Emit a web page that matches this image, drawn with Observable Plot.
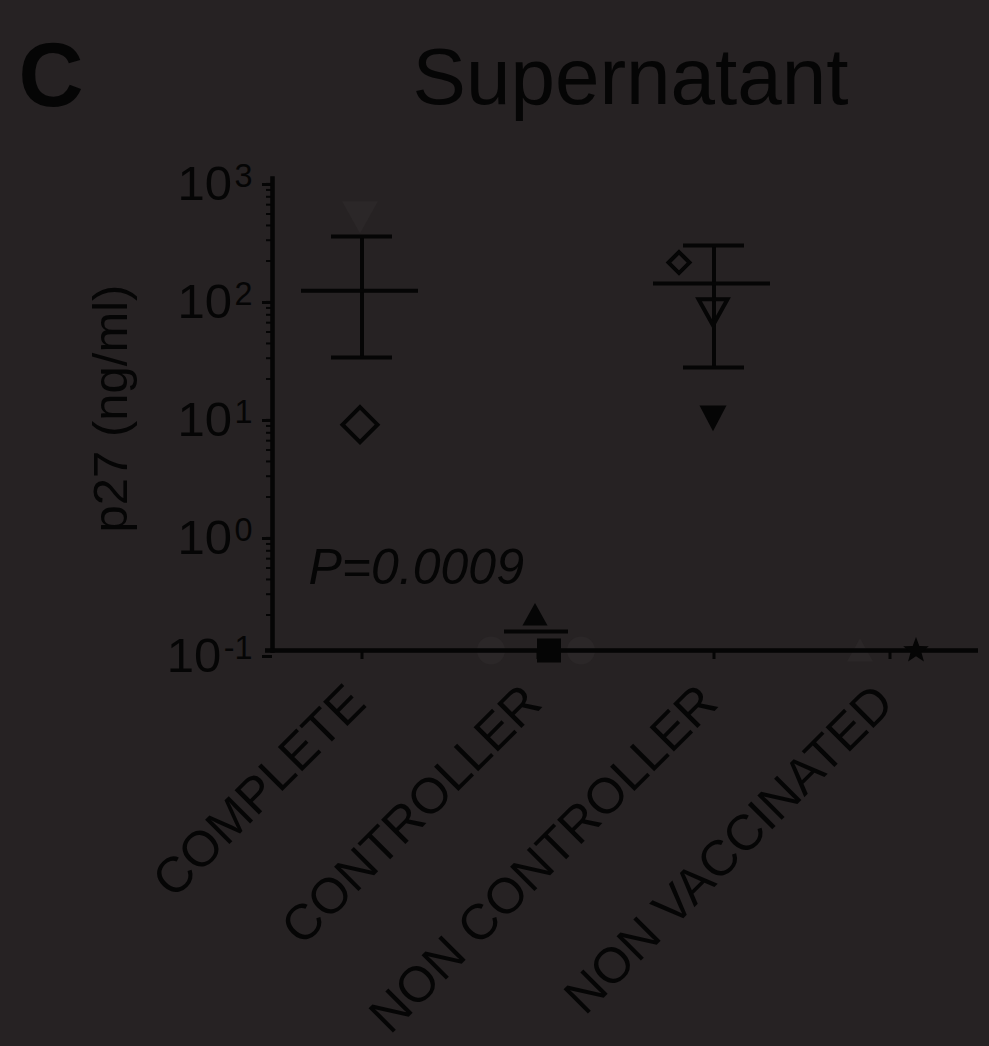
<!DOCTYPE html>
<html><head><meta charset="utf-8">
<script src="https://cdn.jsdelivr.net/npm/d3@7"></script>
<script src="https://cdn.jsdelivr.net/npm/@observablehq/plot@0.6"></script>
<style>
html,body{margin:0;padding:0;background:#262223;}
svg{display:block;}
</style></head><body><div id="chart"></div>
<script>
// ---------- data ----------
const groups = ["COMPLETE", "CONTROLLER", "NON CONTROLLER", "NON VACCINATED"];

const pointGroup = ["COMPLETE", "COMPLETE", "CONTROLLER", "CONTROLLER", "CONTROLLER", "CONTROLLER",
                    "NON CONTROLLER", "NON CONTROLLER", "NON CONTROLLER", "NON VACCINATED", "NON VACCINATED"];
const pointValue = [8.2, 477, 0.2, 0.1, 0.1, 0.1, 194, 74.6, 9.4, 0.1, 0.1];
const pointShape = ["diamond", "triangleDown", "triangleUp", "square", "circle", "circle",
                    "diamond", "triangleDown", "triangleDownFilled", "star", "triangleUp"];
const pointFaint = [false, true, false, false, true, true, false, false, false, false, true];

const meanGroup = ["COMPLETE", "CONTROLLER", "NON CONTROLLER"];
const meanValue = [112, 0.145, 129];
const errLow = [30.4, null, 25];
const errHigh = [322, null, 270];

const yTickValues = [0.1, 1, 10, 100, 1000];
const yTickExponents = ["-1", "0", "1", "2", "3"];

const titleText = "Supernatant";
const panelLetter = "C";
const yLabel = "p27 (ng/ml)";
const pText = "P=0.0009";

// ---------- tables ----------
const points = pointValue.map((v, i) => ({group: pointGroup[i], value: v, shape: pointShape[i], faint: pointFaint[i]}));
const means = meanValue.map((v, i) => ({group: meanGroup[i], mean: v, lo: errLow[i], hi: errHigh[i]}));
const errs = means.filter(d => d.lo != null);

// minor log ticks
const minorTicks = [];
for (let k = -1; k < 3; k++) for (let m = 2; m <= 9; m++) minorTicks.push(m * Math.pow(10, k));

// ---------- symbols ----------
const R = s => Math.sqrt(s / Math.PI);
const symbols = {
  diamond: {draw(c, s) { const r = R(s); c.moveTo(0, -r); c.lineTo(r, 0); c.lineTo(0, r); c.lineTo(-r, 0); c.closePath(); }},
  triangleDown: {draw(c, s) { const r = R(s); c.moveTo(-r, -0.85 * r); c.lineTo(r, -0.85 * r); c.lineTo(0, 0.95 * r); c.closePath(); }},
  triangleDownFilled: {draw(c, s) { const r = R(s); c.moveTo(-r, -0.9 * r); c.lineTo(r, -0.9 * r); c.lineTo(0, 1.0 * r); c.closePath(); }},
  triangleUp: {draw(c, s) { const r = R(s); c.moveTo(-r, 0.85 * r); c.lineTo(r, 0.85 * r); c.lineTo(0, -0.95 * r); c.closePath(); }},
  square: {draw(c, s) { const r = R(s); c.rect(-r, -r, 2 * r, 2 * r); }},
  circle: {draw(c, s) { const r = R(s); c.moveTo(r, 0); c.arc(0, 0, r, 0, 2 * Math.PI); }},
  star: {draw(c, s) {
    const r = R(s), ri = r * 0.42;
    for (let i = 0; i < 10; i++) {
      const a = -Math.PI / 2 + i * Math.PI / 5, rr = i % 2 ? ri : r;
      const x = rr * Math.cos(a), y = rr * Math.sin(a);
      i ? c.lineTo(x, y) : c.moveTo(x, y);
    }
    c.closePath();
  }}
};

// per-point rendering (style / jitter), index-aligned with the data arrays
const INK = "#050505", FAINT = "#2b2728";
const pointStyle = [
  {r: 17.5, open: true, dx: -2},   // complete diamond
  {r: 18, open: false, dx: -2},    // complete faint triangle
  {r: 12.5, open: false, dx: -3},  // controller triangle up
  {r: 12, open: false, dx: 11},    // controller square
  {r: 14, open: false, dx: -47},   // faint circle
  {r: 14, open: false, dx: 43},    // faint circle
  {r: 10.5, open: true, dx: -35},  // non controller diamond
  {r: 14.5, open: true, dx: -1},   // non controller open triangle
  {r: 13.5, open: false, dx: -1},  // non controller filled triangle
  {r: 13.5, open: false, dx: 26},  // non vaccinated star
  {r: 13, open: false, dx: -30}    // faint triangle
];

const dotMarks = (faint) => points.map((p, i) => p.faint === faint ? Plot.dot([p], {
  x: "group", y: "value",
  symbol: symbols[p.shape], r: pointStyle[i].r, dx: pointStyle[i].dx,
  fill: pointStyle[i].open ? "none" : (faint ? FAINT : INK),
  stroke: pointStyle[i].open ? INK : "none",
  strokeWidth: 4
}) : null).filter(Boolean);

const chart = Plot.plot({
  width: 989, height: 1046,
  marginTop: 178, marginBottom: 396, marginLeft: 272, marginRight: 11,
  style: {background: "#262223", color: INK, fontFamily: "'Liberation Sans', Arial, sans-serif", overflow: "visible"},
  x: {type: "band", domain: groups, paddingInner: 0.337, paddingOuter: 0.167, axis: null, label: null},
  y: {type: "log", domain: [0.1, 1000], axis: null, label: null},
  marks: [
    ...dotMarks(true),
    // axes
    Plot.axisY(minorTicks, {anchor: "left", tickSize: 6, tickFormat: () => "", strokeWidth: 2, stroke: INK, label: null}),
    Plot.axisY(yTickValues, {anchor: "left", tickSize: 10, tickPadding: 10, strokeWidth: 3, stroke: INK, fill: INK,
      fontSize: 49, dy: 6, label: null, tickFormat: d => "10^" + yTickExponents[yTickValues.indexOf(d)]}),
    Plot.axisX(groups, {anchor: "bottom", tickSize: 9, tickFormat: () => "", strokeWidth: 3, stroke: INK, label: null}),
    Plot.frame({anchor: "left", stroke: INK, strokeWidth: 4.5}),
    Plot.ruleY([0.1], {stroke: INK, strokeWidth: 4.5, insetLeft: -7}),
    // error bars and means
    Plot.ruleX(errs, {x: "group", y1: "lo", y2: "hi", stroke: INK, strokeWidth: 4}),
    Plot.tickY(errs, {x: "group", y: "hi", stroke: INK, strokeWidth: 4, insetLeft: 28, insetRight: 28}),
    Plot.tickY(errs, {x: "group", y: "lo", stroke: INK, strokeWidth: 4, insetLeft: 28, insetRight: 28}),
    Plot.tickY(means.filter(d => d.group !== "CONTROLLER"), {x: "group", y: "mean", stroke: INK, strokeWidth: 4, dx: -2}),
    Plot.tickY(means.filter(d => d.group === "CONTROLLER"), {x: "group", y: "mean", stroke: INK, strokeWidth: 4, insetLeft: 25, insetRight: 28}),
    ...dotMarks(false),
    // category labels
    Plot.text(groups, {x: d => d, frameAnchor: "bottom", text: d => d, rotate: -45, textAnchor: "end",
      lineAnchor: "bottom", dx: 6, dy: 55, fontSize: 50, fill: INK}),
    // y label
    Plot.text([yLabel], {frameAnchor: "left", text: d => d, rotate: -90, textAnchor: "middle", dx: -161, dy: -6, fontSize: 49, fill: INK}),
    // P value
    Plot.text([pText], {frameAnchor: "bottom-left", text: d => d, textAnchor: "start", lineAnchor: "bottom",
      dx: 36, dy: -67, fontSize: 50, fontStyle: "italic", fill: INK}),
    // title and panel letter
    Plot.text([titleText], {frameAnchor: "top", text: d => d, lineAnchor: "bottom", dx: 5, dy: -75, fontSize: 80, fill: INK}),
    Plot.text([panelLetter], {frameAnchor: "top-left", text: d => d, textAnchor: "start", lineAnchor: "bottom",
      dx: -254, dy: -73, fontSize: 90, fontWeight: "bold", fill: INK})
  ]
});

// superscript exponents on y tick labels
d3.select(chart).selectAll('g[aria-label="y-axis tick label"] text').each(function() {
  const t = this.textContent;
  if (!t.startsWith("10^")) return;
  const exp = t.slice(3);
  const sel = d3.select(this);
  sel.text("10");
  sel.append("tspan").attr("dx", "0.08em").attr("dy", "-0.4em").attr("font-size", "0.66em").text(exp);
});

document.getElementById("chart").append(chart);
</script></body></html>
